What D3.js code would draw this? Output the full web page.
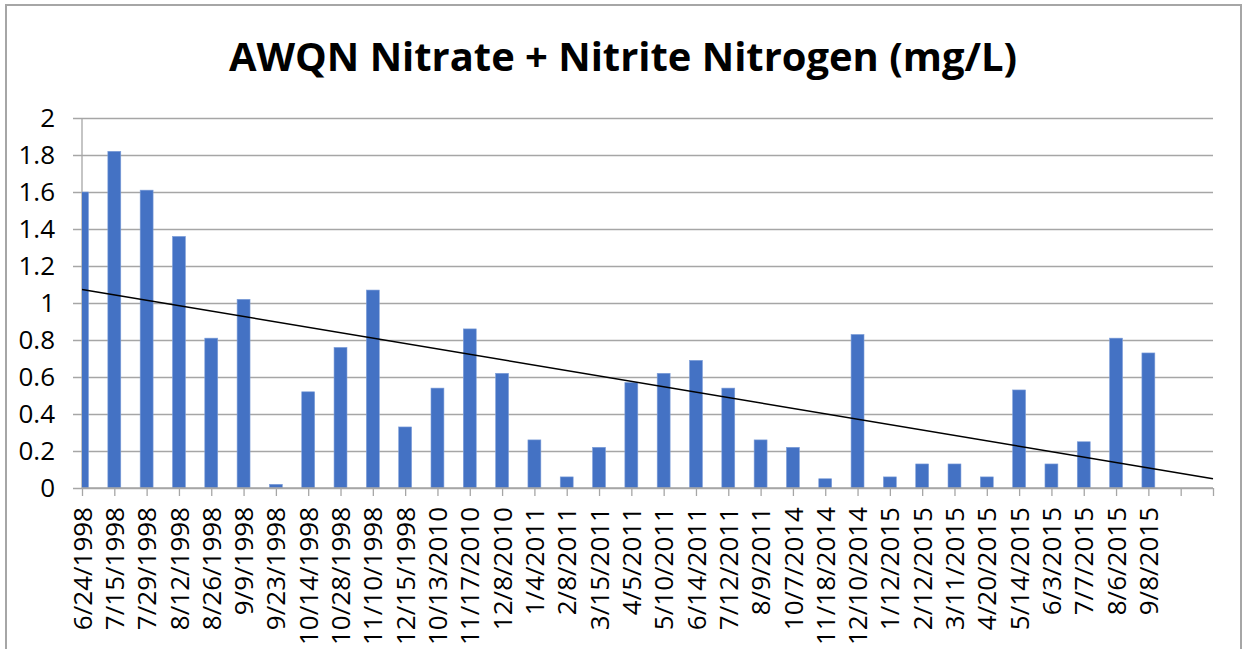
<!DOCTYPE html>
<html>
<head>
<meta charset="utf-8">
<script src="https://d3js.org/d3.v7.min.js"></script>
<style>
  body { margin: 0; background: #fff; }
  svg { display: block; }
</style>
</head>
<body>
<script>
'use strict';

// sample dates (one bar each)
const dates = ["6/24/1998", "7/15/1998", "7/29/1998", "8/12/1998", "8/26/1998",
  "9/9/1998", "9/23/1998", "10/14/1998", "10/28/1998", "11/10/1998", "12/15/1998",
  "10/13/2010", "11/17/2010", "12/8/2010", "1/4/2011", "2/8/2011", "3/15/2011",
  "4/5/2011", "5/10/2011", "6/14/2011", "7/12/2011", "8/9/2011", "10/7/2014",
  "11/18/2014", "12/10/2014", "1/12/2015", "2/12/2015", "3/11/2015", "4/20/2015",
  "5/14/2015", "6/3/2015", "7/7/2015", "8/6/2015", "9/8/2015"];

// nitrate + nitrite nitrogen, mg/L
const nitrate = [1.60, 1.82, 1.61, 1.36, 0.81, 1.02, 0.02, 0.52, 0.76, 1.07, 0.33,
  0.54, 0.86, 0.62, 0.26, 0.06, 0.22, 0.57, 0.62, 0.69, 0.54, 0.26, 0.22,
  0.05, 0.83, 0.06, 0.13, 0.13, 0.06, 0.53, 0.13, 0.25, 0.81, 0.73];

// two empty category slots at the end of the axis (trend is forecast into them)
const emptySlots = ["", ""];

const yTicks = [0, 0.2, 0.4, 0.6, 0.8, 1, 1.2, 1.4, 1.6, 1.8, 2];

let svgContainer = "";
let width = 1243;
let height = 649;
let plot = "";

window.onload = function() {
  plot = {left: 82, right: 1213, top: 118, bottom: 488};

  svgContainer = d3.select('body')
    .append('svg')
    .attr('width', width)
    .attr('height', height);

  // chart border
  svgContainer.append('rect')
    .attr('x', 6)
    .attr('y', 5)
    .attr('width', 1235)
    .attr('height', 700)
    .attr('fill', 'none')
    .attr('stroke', '#a6a6a6')
    .attr('stroke-width', 2);

  svgContainer.append('text')
    .attr('x', 623)
    .attr('y', 71)
    .attr('text-anchor', 'middle')
    .attr('textLength', 788)
    .attr('lengthAdjust', 'spacingAndGlyphs')
    .style('font', 'bold 39px "Open Sans", sans-serif')
    .style('fill', '#000')
    .text("AWQN Nitrate + Nitrite Nitrogen (mg/L)");

  makeBarChart();
}

function makeBarChart() {
  let labels = dates.concat(emptySlots);
  let idx = labels.map((d, i) => i);

  // "on tick marks" category axis: first and last category sit on the plot edges
  let x = d3.scalePoint()
    .domain(idx)
    .range([plot.left, plot.right]);

  let y = d3.scaleLinear()
    .domain([0, 2])
    .range([plot.bottom, plot.top]);

  let barW = x.step() * 0.4;

  // gridlines + y axis
  let yAxis = d3.axisLeft(y)
    .tickValues(yTicks)
    .tickSize(9)
    .tickPadding(18)
    .tickFormat((d) => String(+d.toFixed(1)));

  let gy = svgContainer.append('g')
    .attr('transform', 'translate(' + plot.left + ',0)')
    .call(yAxis);
  gy.select('.domain').remove();
  gy.selectAll('.tick line')
    .attr('x1', plot.right - plot.left)
    .attr('x2', -9)
    .attr('stroke', '#a6a6a6')
    .attr('stroke-width', 1.3);
  gy.selectAll('.tick text')
    .style('font', '26px "Open Sans", sans-serif')
    .attr('fill', '#000');

  // vertical axis line
  svgContainer.append('line')
    .attr('x1', plot.left).attr('x2', plot.left)
    .attr('y1', plot.top).attr('y2', plot.bottom)
    .attr('stroke', '#a6a6a6')
    .attr('stroke-width', 1.3);

  svgContainer.append('clipPath')
    .attr('id', 'plotClip')
    .append('rect')
      .attr('x', plot.left)
      .attr('y', plot.top - 20)
      .attr('width', plot.right - plot.left)
      .attr('height', plot.bottom - plot.top + 20);

  svgContainer.append('g')
    .attr('clip-path', 'url(#plotClip)')
    .selectAll('.bar')
    .data(nitrate)
    .enter()
    .append('rect')
      .attr('class', 'bar')
      .attr('x', (d, i) => x(i) - barW / 2)
      .attr('y', (d) => y(d))
      .attr('width', barW)
      .attr('height', (d) => y(0) - y(d))
      .attr('fill', '#4472c4')
      .attr('stroke', '#7f9fd9')
      .attr('stroke-width', 0.6);

  // x axis
  let xAxis = d3.axisBottom(x)
    .tickSize(8)
    .tickPadding(0)
    .tickFormat((i) => labels[i]);

  let gx = svgContainer.append('g')
    .attr('transform', 'translate(0,' + plot.bottom + ')')
    .call(xAxis);
  gx.select('.domain')
    .attr('d', 'M' + plot.left + ',0H' + plot.right)
    .attr('stroke', '#a6a6a6')
    .attr('stroke-width', 1.3);
  gx.selectAll('.tick line')
    .attr('stroke', '#a6a6a6')
    .attr('stroke-width', 1.3);
  gx.selectAll('.tick text')
    .style('font', '26px "Open Sans", sans-serif')
    .attr('fill', '#000')
    .style('text-anchor', 'end')
    .attr('x', -19)
    .attr('y', 0)
    .attr('dy', '0.35em')
    .attr('transform', 'rotate(-90)');

  // linear trendline (least squares on x = 1..n), forecast over the empty slots
  let n = nitrate.length;
  let mx = d3.mean(nitrate, (d, i) => i + 1);
  let my = d3.mean(nitrate);
  let sxy = d3.sum(nitrate, (d, i) => (i + 1 - mx) * (d - my));
  let sxx = d3.sum(nitrate, (d, i) => (i + 1 - mx) * (i + 1 - mx));
  let slope = sxy / sxx;
  let icpt = my - slope * mx;
  let trend = [1, n + emptySlots.length].map((k) => ({k: k, v: icpt + slope * k}));

  let line = d3.line()
    .x((d) => x(d.k - 1))
    .y((d) => y(d.v));

  svgContainer.append('path')
    .datum(trend)
    .attr('d', line)
    .attr('fill', 'none')
    .attr('stroke', '#000')
    .attr('stroke-width', 1.5);
}
</script>
</body>
</html>
